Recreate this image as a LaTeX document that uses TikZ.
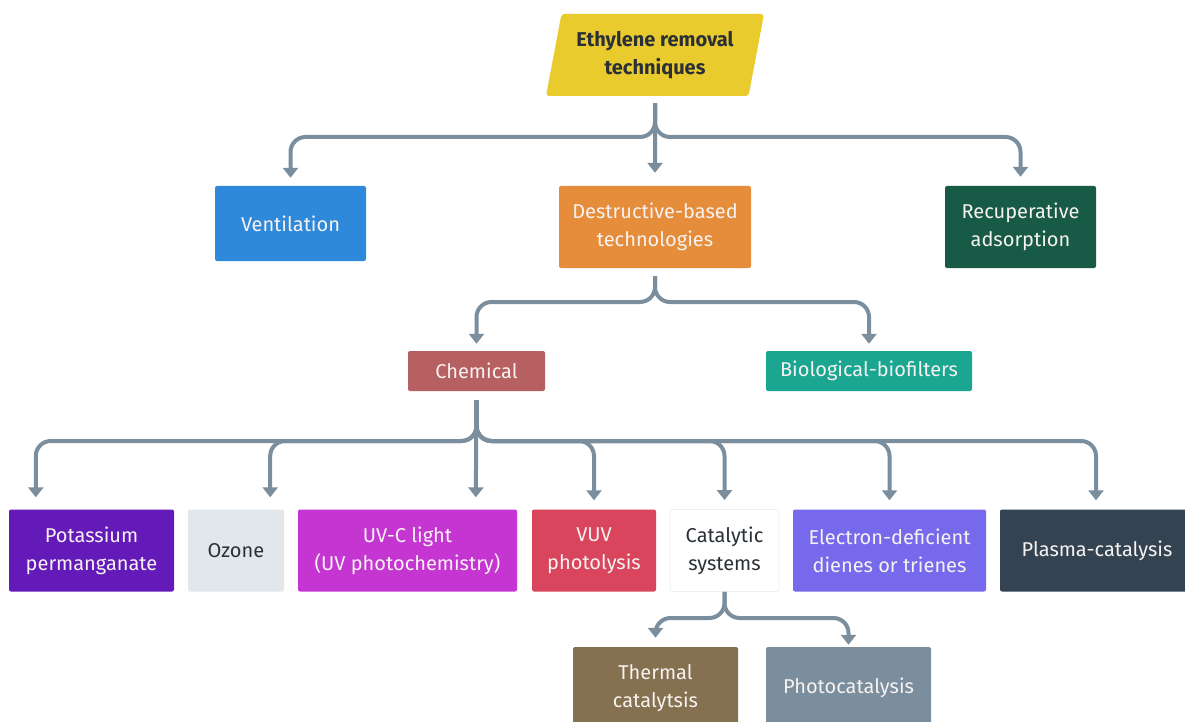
\documentclass[tikz,border=0pt]{standalone}
\usepackage{fontspec}
\setmainfont{Fira Sans}
\usepackage{tikz}
\usetikzlibrary{shapes.geometric,arrows.meta}
\definecolor{linegray}{HTML}{7B8E9E}
\definecolor{darktext}{HTML}{2B3036}
\definecolor{softwhite}{HTML}{F6F2F1}
\definecolor{cyellow}{HTML}{E9CB2D}
\definecolor{cblue}{HTML}{2E89DA}
\definecolor{corange}{HTML}{E68D3C}
\definecolor{cgreen}{HTML}{175A46}
\definecolor{cchem}{HTML}{B66061}
\definecolor{cteal}{HTML}{1AA690}
\definecolor{cpurple}{HTML}{6419B9}
\definecolor{cozone}{HTML}{E2E7EB}
\definecolor{cmagenta}{HTML}{C535D2}
\definecolor{cred}{HTML}{D9455C}
\definecolor{cviolet}{HTML}{7769EC}
\definecolor{cslate}{HTML}{344352}
\definecolor{cbrown}{HTML}{85704F}
\tikzstyle{box} = [rectangle,rounded corners=2pt,minimum height=82pt,inner sep=0pt,align=center,text=softwhite,font=\fontsize{20}{28}\selectfont]
\tikzstyle{branch} = [line width=4pt,draw=linegray,rounded corners=15pt,-{Triangle[width=15pt,length=10pt]}]

\begin{document}
\begin{tikzpicture}[x=1pt,y=-1pt]
\useasboundingbox[fill=white] (0,0) rectangle (1185,722);

\node[trapezium,trapezium left angle=72,trapezium right angle=108,trapezium stretches body=true,
      minimum width=218pt,minimum height=82pt,inner sep=0pt,fill=cyellow,rounded corners=3pt,
      align=center,text=darktext,font=\fontsize{20}{28}\selectfont\bfseries] (title) at (655,55) {Ethylene removal\\techniques};

\node[box,fill=cblue,minimum width=151pt,minimum height=75pt] (vent) at (290.5,223.5) {Ventilation};
\node[box,fill=corange,minimum width=192pt] (destr) at (655,227) {Destructive-based\\technologies};
\node[box,fill=cgreen,minimum width=151pt] (recup) at (1020.5,227) {Recuperative\\adsorption};

\node[box,fill=cchem,minimum width=137pt,minimum height=40pt] (chem) at (476.5,371) {Chemical};
\node[box,fill=cteal,minimum width=206pt,minimum height=40pt] (bio) at (869,371) {Biological-biofilters};

\node[box,fill=cpurple,minimum width=165pt] (pot) at (91.5,550.5) {Potassium\\permanganate};
\node[box,fill=cozone,minimum width=96pt,text=darktext] (ozone) at (236,550.5) {Ozone};
\node[box,fill=cmagenta,minimum width=219pt] (uvc) at (407.5,550.5) {UV-C light\\(UV photochemistry)};
\node[box,fill=cred,minimum width=124pt] (vuv) at (594,550.5) {VUV\\photolysis};
\node[box,fill=white,draw=black!6,line width=0.8pt,minimum width=109pt,text=darktext] (cat) at (724.5,550.5) {Catalytic\\systems};
\node[box,fill=cviolet,minimum width=193pt] (elec) at (889.5,550.5) {Electron-deficient\\dienes or trienes};
\node[box,fill=cslate,minimum width=194pt] (plasma) at (1097,550.5) {Plasma-catalysis};

\node[box,fill=cbrown,minimum width=165pt] (therm) at (655.5,688) {Thermal\\catalytsis};
\node[box,fill=linegray,minimum width=165pt] (photo) at (848.5,688) {Photocatalysis};

\coordinate (lvla) at (0,137);
\coordinate (lvlb) at (0,302);
\coordinate (lvlc) at (0,441);
\coordinate (lvld) at (0,618);

\draw[branch] ([yshift=-7pt]title.south) -- (title |- lvla) -| ([yshift=8pt]vent.north);
\draw[branch] ([yshift=-7pt]title.south) -- ([yshift=13pt]destr.north);
\draw[branch] ([yshift=-7pt]title.south) -- (title |- lvla) -| ([yshift=9pt]recup.north);

\draw[branch] ([yshift=-8pt]destr.south) -- (destr |- lvlb) -| ([yshift=7pt]chem.north);
\draw[branch] ([yshift=-8pt]destr.south) -- (destr |- lvlb) -| ([yshift=7pt]bio.north);

\draw[branch] ([yshift=-9pt]chem.south) -- (chem |- lvlc) -| ([xshift=27pt,yshift=12pt]pot.north west);
\draw[branch] ([yshift=-9pt]chem.south) -- (chem |- lvlc) -| ([xshift=-14pt,yshift=12pt]ozone.north east);
\draw[branch] ([yshift=-9pt]chem.south) -- ([xshift=178pt,yshift=12pt]uvc.north west);
\draw[branch] ([yshift=-9pt]chem.south) -- (chem |- lvlc) -| ([yshift=9pt]vuv.north);
\draw[branch] ([yshift=-9pt]chem.south) -- (chem |- lvlc) -| ([yshift=9pt]cat.north);
\draw[branch] ([yshift=-9pt]chem.south) -- (chem |- lvlc) -| ([yshift=9pt]elec.north);
\draw[branch] ([yshift=-9pt]chem.south) -- (chem |- lvlc) -| ([xshift=-1pt,yshift=9pt]plasma.north);

\draw[branch] (cat.south) -- (cat |- lvld) -| ([yshift=9pt]therm.north);
\draw[branch] (cat.south) -- (cat |- lvld) -| ([yshift=2pt]photo.north);
\end{tikzpicture}
\end{document}
